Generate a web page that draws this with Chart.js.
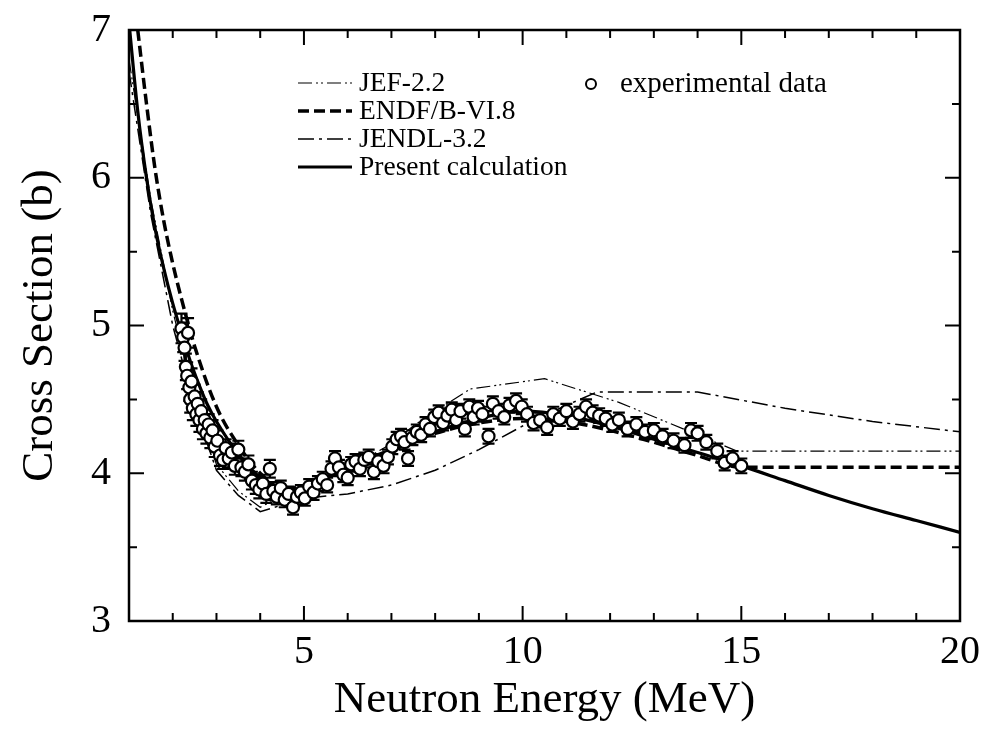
<!DOCTYPE html>
<html>
<head>
<meta charset="utf-8">
<script src="https://cdn.jsdelivr.net/npm/chart.js@4.4.1/dist/chart.umd.min.js"></script>
<style>
html, body { margin: 0; padding: 0; background: #fff; }
</style>
</head>
<body>
<canvas id="xsChart" width="985" height="737"></canvas>
<script>
// evaluated data curves (MeV, barn)
let presentE  = [1.0, 1.2, 1.4, 1.6, 1.8, 2.0, 2.2, 2.4, 2.6, 2.8, 3.0, 3.5, 4.0, 4.5, 5.0, 5.5, 6.0, 7.0, 8.0, 9.0, 10.0, 11.0, 12.0, 13.0, 14.0, 15.0, 16.0, 17.0, 18.0, 19.0, 20.0];
let presentXS = [7.05, 6.45, 6.0, 5.65, 5.38, 5.15, 4.95, 4.76, 4.6, 4.46, 4.35, 4.13, 3.97, 3.88, 3.9, 3.97, 4.03, 4.15, 4.28, 4.37, 4.42, 4.39, 4.32, 4.23, 4.14, 4.05, 3.95, 3.85, 3.76, 3.68, 3.6];

let endfE  = [1.2, 1.4, 1.6, 1.8, 2.0, 2.2, 2.5, 3.0, 3.5, 4.0, 4.5, 5.0, 6.0, 7.0, 8.0, 9.0, 10.0, 11.0, 12.0, 13.0, 14.0, 15.0, 17.0, 20.0];
let endfXS = [7.0, 6.5, 6.05, 5.7, 5.42, 5.18, 4.86, 4.45, 4.19, 4.0, 3.9, 3.91, 4.04, 4.16, 4.27, 4.34, 4.37, 4.35, 4.29, 4.21, 4.12, 4.04, 4.04, 4.04];

let jefE  = [1.0, 1.5, 2.0, 2.5, 3.0, 3.5, 4.0, 5.0, 6.0, 7.0, 7.5, 8.0, 8.8, 10.5, 12.2, 14.9, 20.0];
let jefXS = [6.8, 5.85, 5.1, 4.5, 4.06, 3.88, 3.77, 3.92, 4.03, 4.2, 4.32, 4.42, 4.57, 4.64, 4.48, 4.15, 4.15];

let jendlE  = [1.0, 1.5, 2.0, 2.5, 3.0, 3.5, 4.0, 5.0, 6.0, 7.0, 8.0, 9.0, 10.0, 11.0, 11.7, 14.0, 16.0, 18.0, 20.0];
let jendlXS = [6.72, 5.75, 5.0, 4.45, 4.02, 3.85, 3.74, 3.83, 3.86, 3.92, 4.02, 4.16, 4.32, 4.46, 4.55, 4.55, 4.44, 4.35, 4.28];

// experimental points
let expE = [2.20, 2.24, 2.27, 2.30, 2.33, 2.35, 2.38, 2.40, 2.43, 2.46, 2.50, 2.54, 2.57, 2.61, 2.65, 2.69, 2.73, 2.77, 2.82, 2.86,
  2.91, 2.96, 3.02, 3.08, 3.15, 3.21, 3.28, 3.35, 3.42, 3.50, 3.57, 3.65, 3.73, 3.81, 3.90, 3.98, 4.06, 4.14, 4.22, 4.30,
  4.38, 4.47, 4.56, 4.65, 4.75, 4.84, 4.93, 5.02, 5.12, 5.22, 5.32, 5.43, 5.53, 5.63, 5.71, 5.80, 5.90, 6.00, 6.08, 6.18,
  6.28, 6.38, 6.48, 6.60, 6.70, 6.82, 6.92, 7.02, 7.12, 7.22, 7.30, 7.38, 7.48, 7.58, 7.68, 7.78, 7.88, 7.98, 8.08, 8.18,
  8.28, 8.38, 8.48, 8.58, 8.68, 8.78, 8.88, 8.98, 9.08, 9.22, 9.32, 9.45, 9.58, 9.70, 9.85, 9.98, 10.10, 10.25, 10.40, 10.56,
  10.70, 10.85, 11.00, 11.15, 11.30, 11.45, 11.60, 11.75, 11.90, 12.05, 12.20, 12.40, 12.60, 12.80, 13.00, 13.20, 13.45, 13.70, 13.85, 14.00,
  14.20, 14.45, 14.62, 14.80, 15.00];
let expXS = [4.98, 4.92, 4.85, 4.72, 4.66, 4.95, 4.58, 4.50, 4.62, 4.44, 4.52, 4.40, 4.47, 4.36, 4.42, 4.30, 4.36, 4.27, 4.33, 4.24,
  4.29, 4.18, 4.22, 4.12, 4.09, 4.17, 4.10, 4.14, 4.05, 4.16, 4.04, 4.01, 4.06, 3.95, 3.92, 3.89, 3.93, 3.86, 4.03, 3.88,
  3.84, 3.90, 3.82, 3.86, 3.77, 3.84, 3.87, 3.83, 3.91, 3.87, 3.93, 3.96, 3.92, 4.03, 4.10, 4.04, 3.99, 3.97, 4.06, 4.08,
  4.03, 4.09, 4.11, 4.01, 4.08, 4.05, 4.11, 4.18, 4.23, 4.25, 4.21, 4.10, 4.24, 4.28, 4.26, 4.33, 4.30, 4.38, 4.41, 4.34,
  4.39, 4.43, 4.36, 4.42, 4.30, 4.45, 4.38, 4.44, 4.40, 4.25, 4.47, 4.42, 4.38, 4.46, 4.49, 4.45, 4.40, 4.34, 4.36, 4.31,
  4.40, 4.37, 4.42, 4.35, 4.40, 4.45, 4.41, 4.39, 4.37, 4.33, 4.36, 4.30, 4.33, 4.28, 4.29, 4.25, 4.22, 4.19, 4.29, 4.27,
  4.21, 4.15, 4.07, 4.10, 4.05];
let expErr = [0.10, 0.10, 0.09, 0.09, 0.09, 0.10, 0.09, 0.09, 0.09, 0.08, 0.08, 0.08, 0.08, 0.08, 0.08, 0.07, 0.07, 0.07, 0.07, 0.07,
  0.07, 0.07, 0.07, 0.07, 0.06, 0.06, 0.06, 0.06, 0.06, 0.06, 0.06, 0.06, 0.06, 0.06, 0.06, 0.06, 0.06, 0.06, 0.06, 0.06,
  0.05, 0.05, 0.05, 0.05, 0.05, 0.05, 0.05, 0.05, 0.05, 0.05, 0.05, 0.05, 0.05, 0.05, 0.05, 0.05, 0.05, 0.05, 0.05, 0.05,
  0.05, 0.05, 0.05, 0.05, 0.05, 0.05, 0.05, 0.05, 0.05, 0.05, 0.05, 0.05, 0.05, 0.05, 0.05, 0.05, 0.05, 0.05, 0.05, 0.05,
  0.05, 0.05, 0.05, 0.05, 0.05, 0.05, 0.05, 0.05, 0.05, 0.05, 0.05, 0.05, 0.05, 0.05, 0.05, 0.05, 0.05, 0.05, 0.05, 0.05,
  0.05, 0.05, 0.05, 0.05, 0.05, 0.05, 0.05, 0.05, 0.05, 0.05, 0.05, 0.05, 0.05, 0.05, 0.05, 0.05, 0.05, 0.05, 0.05, 0.05,
  0.05, 0.05, 0.05, 0.05, 0.05];

let xTickLabels = [5, 10, 15, 20];
let yTickLabels = [3, 4, 5, 6, 7];

const SERIF = '"Liberation Serif", "DejaVu Serif", serif';

function toPoints(xs, ys) {
  return xs.map((x, i) => ({ x: x, y: ys[i] }));
}

// legend entries: [label, width, dash]
const legendLines = [
  ['JEF-2.2', 1.2, [14, 4, 2, 3, 2, 4]],
  ['ENDF/B-VI.8', 3.5, [11, 5]],
  ['JENDL-3.2', 1.5, [16, 5, 3, 5]],
  ['Present calculation', 3.2, []]
];

const errorBars = {
  id: 'errorBars',
  beforeDatasetDraw(chart, args) {
    if (args.index !== 0) return;
    const ctx = chart.ctx, x = chart.scales.x, y = chart.scales.y;
    ctx.save();
    ctx.strokeStyle = '#000';
    ctx.lineWidth = 2.2;
    expE.forEach((e, i) => {
      const px = x.getPixelForValue(e);
      const top = y.getPixelForValue(expXS[i] + expErr[i]);
      const bot = y.getPixelForValue(expXS[i] - expErr[i]);
      ctx.beginPath();
      ctx.moveTo(px, top); ctx.lineTo(px, bot);
      ctx.moveTo(px - 6, top); ctx.lineTo(px + 6, top);
      ctx.moveTo(px - 6, bot); ctx.lineTo(px + 6, bot);
      ctx.stroke();
    });
    ctx.restore();
  }
};

const frameTicks = {
  id: 'frameTicks',
  afterDraw(chart) {
    const ctx = chart.ctx, a = chart.chartArea, x = chart.scales.x, y = chart.scales.y;
    ctx.save();
    ctx.strokeStyle = '#000';
    ctx.lineWidth = 2.5;
    ctx.strokeRect(a.left, a.top, a.right - a.left, a.bottom - a.top);
    ctx.lineWidth = 2;
    ctx.beginPath();
    for (let v = 2; v < 20; v++) {
      const px = x.getPixelForValue(v);
      const len = v % 5 === 0 ? 15 : 8;
      ctx.moveTo(px, a.bottom); ctx.lineTo(px, a.bottom - len);
      ctx.moveTo(px, a.top); ctx.lineTo(px, a.top + len);
    }
    for (let v = 3.5; v < 7; v += 0.5) {
      const py = y.getPixelForValue(v);
      const len = v % 1 === 0 ? 15 : 8;
      ctx.moveTo(a.left, py); ctx.lineTo(a.left + len, py);
      ctx.moveTo(a.right, py); ctx.lineTo(a.right - len, py);
    }
    ctx.stroke();

    // legend
    ctx.font = '27.5px ' + SERIF;
    ctx.fillStyle = '#000';
    ctx.textBaseline = 'middle';
    const rows = [83, 111, 139, 167];
    legendLines.forEach((l, i) => {
      ctx.lineWidth = l[1];
      ctx.setLineDash(l[2]);
      ctx.beginPath();
      ctx.moveTo(298, rows[i]); ctx.lineTo(352, rows[i]);
      ctx.stroke();
      ctx.setLineDash([]);
      ctx.fillText(l[0], 359, rows[i] + 1);
    });
    ctx.lineWidth = 2;
    ctx.beginPath();
    ctx.arc(591, 84, 5, 0, Math.PI * 2);
    ctx.fillStyle = '#fff';
    ctx.fill();
    ctx.stroke();
    ctx.fillStyle = '#000';
    ctx.font = '29px ' + SERIF;
    ctx.fillText('experimental data', 620, 84);
    ctx.restore();
  }
};

const chartElement = document.getElementById('xsChart').getContext('2d');

const xsChart = new Chart(chartElement, {
  type: 'scatter',
  data: {
    datasets: [
      {
        label: 'experimental data',
        data: toPoints(expE, expXS),
        showLine: false,
        pointRadius: 6,
        pointBorderWidth: 2.2,
        pointBorderColor: '#000',
        pointBackgroundColor: '#fff',
        order: 0
      },
      {
        label: 'Present calculation',
        data: toPoints(presentE, presentXS),
        showLine: true,
        borderColor: '#000',
        borderWidth: 3.2,
        pointRadius: 0,
        cubicInterpolationMode: 'monotone',
        order: 1
      },
      {
        label: 'ENDF/B-VI.8',
        data: toPoints(endfE, endfXS),
        showLine: true,
        borderColor: '#000',
        borderWidth: 3.5,
        borderDash: [11, 5],
        pointRadius: 0,
        cubicInterpolationMode: 'monotone',
        order: 2
      },
      {
        label: 'JENDL-3.2',
        data: toPoints(jendlE, jendlXS),
        showLine: true,
        borderColor: '#000',
        borderWidth: 1.5,
        borderDash: [16, 5, 3, 5],
        pointRadius: 0,
        tension: 0,
        order: 3
      },
      {
        label: 'JEF-2.2',
        data: toPoints(jefE, jefXS),
        showLine: true,
        borderColor: '#000',
        borderWidth: 1.2,
        borderDash: [14, 4, 2, 3, 2, 4],
        pointRadius: 0,
        tension: 0,
        order: 4
      }
    ]
  },
  options: {
    responsive: false,
    animation: false,
    devicePixelRatio: 1,
    layout: { padding: { left: 0, top: 30, right: 25, bottom: 0 } },
    plugins: {
      legend: { display: false },
      tooltip: { enabled: false }
    },
    scales: {
      x: {
        type: 'linear',
        min: 1,
        max: 20,
        afterBuildTicks(scale) { scale.ticks = xTickLabels.map(v => ({ value: v })); },
        afterFit(scale) {
          scale.height = 116;
          scale.paddingLeft = 0;
          scale.paddingRight = 0;
        },
        grid: { display: false, drawTicks: false },
        border: { display: false },
        ticks: { color: '#000', padding: 7, maxRotation: 0, font: { family: SERIF, size: 40 } },
        title: {
          display: true,
          text: 'Neutron Energy (MeV)',
          color: '#000',
          padding: { top: 0, bottom: 10 },
          font: { family: SERIF, size: 45 }
        }
      },
      y: {
        type: 'linear',
        min: 3,
        max: 7,
        afterBuildTicks(scale) { scale.ticks = yTickLabels.map(v => ({ value: v })); },
        afterFit(scale) {
          scale.width = 129;
          scale.paddingTop = 0;
          scale.paddingBottom = 0;
        },
        grid: { display: false, drawTicks: false },
        border: { display: false },
        ticks: { color: '#000', padding: 18, font: { family: SERIF, size: 40 } },
        title: {
          display: true,
          text: 'Cross Section (b)',
          color: '#000',
          padding: { top: 13, bottom: 0 },
          font: { family: SERIF, size: 45 }
        }
      }
    }
  },
  plugins: [errorBars, frameTicks]
});
</script>
</body>
</html>
